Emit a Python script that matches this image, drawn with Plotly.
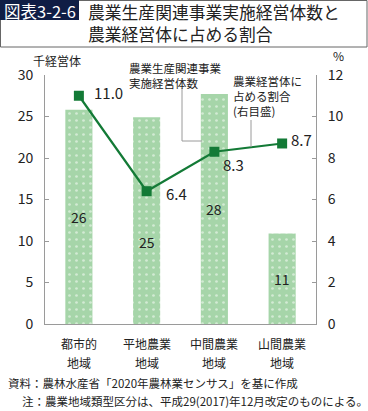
import plotly.graph_objects as go

categories = ["都市的<br>地域", "平地農業<br>地域", "中間農業<br>地域", "山間農業<br>地域"]
entities = [25.8, 24.9, 27.7, 10.9]          # 千経営体
entity_labels = ["26", "25", "28", "11"]
share = [11.0, 6.4, 8.3, 8.7]                 # %
share_labels = ["11.0", "6.4", "8.3", "8.7"]
left_ticks = [0, 5, 10, 15, 20, 25, 30]
right_ticks = [0, 2, 4, 6, 8, 10, 12]

FONT = "Noto Sans CJK JP"
BAR_GREEN = "#a6d5a9"
LINE_GREEN = "#137a36"
AXIS_GREY = "#9a9a9a"
TXT = "#222222"

W, H = 368, 411
L, R, T, B = 45, 52, 75, 87
PW, PH = W - L - R, H - T - B


def px(x):
    return (x - L) / PW


def py(y):
    return (H - B - y) / PH


def note(x, y, text, size, xanchor="left", color=TXT, align="left"):
    return dict(x=px(x), y=py(y), xref="paper", yref="paper", xanchor=xanchor, yanchor="middle",
                text=text, align=align, showarrow=False, borderpad=0,
                font=dict(family=FONT, size=size, color=color))


fig = go.Figure()
fig.add_trace(go.Bar(
    x=categories, y=entities, width=0.4,
    marker=dict(color=BAR_GREEN, line=dict(width=0),
                pattern=dict(shape=".", fgcolor="white", bgcolor=BAR_GREEN,
                             size=7, solidity=0.12)),
    hoverinfo="skip", showlegend=False,
))
fig.add_trace(go.Scatter(
    x=categories, y=share, yaxis="y2", mode="lines+markers",
    line=dict(color=LINE_GREEN, width=2.2),
    marker=dict(symbol="square", size=10, color=LINE_GREEN),
    hoverinfo="skip", showlegend=False, cliponaxis=False,
))

ann = []
# bar value labels
for i, (c, v, lab) in enumerate(zip(categories, entities, entity_labels)):
    ann.append(dict(x=c, y=v / 2, xref="x", yref="y", text=lab, showarrow=False,
                    xanchor="center", yanchor="middle",
                    yshift=-21 if i == 1 else 0,
                    font=dict(family=FONT, size=14, color=TXT)))
# line value labels
label_shift = [(13, 3), (17, -2), (7, -13), (7, 4)]
for c, v, lab, (dx, dy) in zip(categories, share, share_labels, label_shift):
    ann.append(dict(x=c, y=v, xref="x", yref="y2", text=lab, showarrow=False,
                    xanchor="left", yanchor="middle", xshift=dx, yshift=dy,
                    font=dict(family=FONT, size=15, color=TXT)))
# category labels (two lines each)
for c in categories:
    l1, l2 = c.split("<br>")
    ann.append(dict(x=c, xref="x", y=py(343), yref="paper", text=l1, showarrow=False,
                    xanchor="center", yanchor="middle", font=dict(family=FONT, size=12, color=TXT)))
    ann.append(dict(x=c, xref="x", y=py(362), yref="paper", text=l2, showarrow=False,
                    xanchor="center", yanchor="middle", font=dict(family=FONT, size=12, color=TXT)))

# axis unit labels
ann.append(note(57, 61, "千経営体", 12, xanchor="center"))
ann.append(note(338, 56, "%", 12, xanchor="center"))

# callouts
ann.append(note(128, 75, "農業生産関連事業<br>実施経営体数", 11.5))
ann.append(note(232, 96, "農業経営体に<br>占める割合<br>(右目盛)", 11.5))

# title
ann.append(note(39.5, 10.5, "図表3-2-6", 16.5, xanchor="center", color="white"))
ann.append(note(87, 12, "農業生産関連事業実施経営体数と", 16.8))
ann.append(note(87, 34, "農業経営体に占める割合", 16.8))

# footer
ann.append(note(7, 383, "資料：農林水産省「2020年農林業センサス」を基に作成", 11.5))
ann.append(note(21, 401, "注：農業地域類型区分は、平成29(2017)年12月改定のものによる。", 11.5))

shapes = [
    # title frame
    dict(type="rect", xref="paper", yref="paper", x0=px(0.5), x1=px(367), y0=py(47), y1=py(0.5),
         line=dict(color="#666666", width=1)),
    dict(type="rect", xref="paper", yref="paper", x0=px(0), x1=px(79), y0=py(20), y1=py(0),
         fillcolor="#0f1d45", line=dict(width=0)),
    # leader lines
    dict(type="line", xref="paper", yref="paper", x0=px(182), x1=px(182), y0=py(88), y1=py(141),
         line=dict(color=AXIS_GREY, width=1)),
    dict(type="line", xref="paper", yref="paper", x0=px(182), x1=px(202), y0=py(141), y1=py(141),
         line=dict(color=AXIS_GREY, width=1)),
    dict(type="line", xref="paper", yref="paper", x0=px(251), x1=px(251), y0=py(120), y1=py(147),
         line=dict(color=AXIS_GREY, width=1)),
]

fig.update_layout(
    width=W, height=H, margin=dict(l=L, r=R, t=T, b=B, autoexpand=False),
    paper_bgcolor="white", plot_bgcolor="white",
    font=dict(family=FONT, size=14, color=TXT),
    xaxis=dict(showticklabels=False, showline=True, linecolor=AXIS_GREY, linewidth=1,
               ticks="", showgrid=False, zeroline=False),
    yaxis=dict(range=[0, 30], tickvals=left_ticks, showgrid=False, zeroline=False,
               showline=True, linecolor=AXIS_GREY, linewidth=1, ticks="inside", ticklen=4,
               tickcolor=AXIS_GREY, tickfont=dict(family=FONT, size=14, color=TXT), ticklabelstandoff=8),
    yaxis2=dict(range=[0, 12], tickvals=right_ticks, overlaying="y", side="right", showgrid=False,
                zeroline=False, showline=True, linecolor=AXIS_GREY, linewidth=1, ticks="inside",
                ticklen=4, tickcolor=AXIS_GREY, tickfont=dict(family=FONT, size=14, color=TXT),
                ticklabelstandoff=8),
    annotations=ann, shapes=shapes, bargap=0.6,
)

fig.write_html("out.html", config={"displayModeBar": False},
               post_script="document.body.style.margin='0';document.body.style.overflow='hidden';")
